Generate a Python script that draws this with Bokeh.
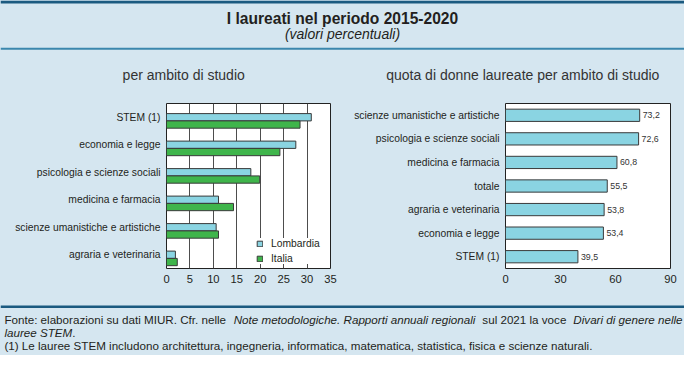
from bokeh.plotting import figure
from bokeh.models import (Range1d, FixedTicker, Label, LabelSet, Legend,
                          LegendItem, Span, ColumnDataSource)
from bokeh.layouts import column, row
from bokeh.transform import dodge
from bokeh.core.properties import value
from bokeh.embed import file_html
from bokeh.resources import INLINE

# ---------------- data ----------------
title_text = "I laureati nel periodo 2015-2020"
subtitle_text = "(valori percentuali)"
left_title = "per ambito di studio"
right_title = "quota di donne laureate per ambito di studio"

left_categories = ["STEM (1)", "economia e legge", "psicologia e scienze sociali",
                   "medicina e farmacia", "scienze umanistiche e artistiche",
                   "agraria e veterinaria"]
lombardia = [30.9, 27.6, 18.0, 11.1, 10.6, 1.9]
italia = [28.5, 24.2, 19.9, 14.3, 11.1, 2.3]
series_names = ["Lombardia", "Italia"]
left_ticks = [0, 5, 10, 15, 20, 25, 30, 35]

right_categories = ["scienze umanistiche e artistiche", "psicologia e scienze sociali",
                    "medicina e farmacia", "totale", "agraria e veterinaria",
                    "economia e legge", "STEM (1)"]
quota_donne = [73.2, 72.6, 60.8, 55.5, 53.8, 53.4, 39.5]
right_ticks = [0, 30, 60, 90]

foot_line1 = [("Fonte: elaborazioni su dati MIUR. Cfr. nelle", "normal"),
              ("Note metodologiche. Rapporti annuali regionali", "italic"),
              ("sul 2021 la voce", "normal"),
              ("Divari di genere nelle", "italic")]
foot_line2 = [("lauree STEM", "italic"), (".", "normal")]
foot_line3 = [("(1) Le lauree STEM includono architettura, ingegneria, informatica, "
               "matematica, statistica, fisica e scienze naturali.", "normal")]

# ---------------- layout / style ----------------
FONT = "Liberation Sans"
BG = "#d5e6f0"
DARK = "#1b5a80"
MID = "#3b87ad"
LOMB = "#8ad4e2"
ITA = "#3fb54b"
EDGE = "#3a3a3a"
TXT = "#231f20"
W = 684
SX = W / 700.0
H_HEAD, H_PANEL, H_FOOT = 88, 204, 63
PW = 342
BGSTYLE = {"background-color": BG}

# Arial / Liberation Sans advance widths (1/1000 em) used to flow footnote segments
AW = dict(zip("abcdefghijklmnopqrstuvwxyz",
              [556, 556, 500, 556, 556, 278, 556, 556, 222, 222, 500, 222, 833,
               556, 556, 556, 556, 333, 500, 278, 556, 500, 722, 500, 500, 500]))
AW.update(dict(zip("ABCDEFGHIJKLMNOPQRSTUVWXYZ",
                   [667, 667, 722, 722, 667, 611, 778, 722, 278, 500, 667, 556, 833,
                    722, 778, 667, 778, 722, 667, 611, 722, 667, 944, 667, 667, 611])))
AW.update({" ": 278, ".": 278, ",": 278, ":": 278, "(": 333, ")": 333, "-": 333})
FS_REF = 11.9


def tw(s):
    return sum(AW.get(ch, 556) for ch in s) * FS_REF / 1000.0


def bare(height, yr):
    p = figure(width=W, height=height, x_range=Range1d(0, 700), y_range=Range1d(*yr),
               x_axis_type=None, y_axis_type=None, toolbar_location=None,
               output_backend="svg", min_border=0, outline_line_color=None,
               background_fill_color=BG, border_fill_color=BG)
    return p


# header (reference y 0..92)
head = bare(H_HEAD, (92, 0))
head.add_layout(Span(location=1.5, dimension="width", line_color=DARK, line_width=3))
head.add_layout(Span(location=50.5, dimension="width", line_color=MID, line_width=2))
head.add_layout(Label(x=350, y=18.5, text=title_text, text_align="center",
                      text_baseline="middle", text_font=FONT, text_font_size="15.6px",
                      text_font_style="bold", text_color=TXT))
head.add_layout(Label(x=350, y=35.5, text=subtitle_text, text_align="center",
                      text_baseline="middle", text_font=FONT, text_font_size="14px",
                      text_font_style="italic", text_color=TXT))
for tx, cx in ((left_title, 187.5), (right_title, 534.5)):
    head.add_layout(Label(x=cx, y=77.5, text=tx, text_align="center",
                          text_baseline="middle", text_font=FONT, text_font_size="14px",
                          text_color="#333333"))


def panel(cats, xmax, ticks, left_border, right_border):
    n = len(cats)
    pos = list(range(n - 1, -1, -1))
    p = figure(width=PW, height=H_PANEL, y_range=Range1d(-0.5, n - 0.5),
               x_range=Range1d(0, xmax), toolbar_location=None, output_backend="svg",
               min_border_left=left_border, min_border_right=right_border,
               min_border_top=15, min_border_bottom=24,
               background_fill_color="white", border_fill_color=BG,
               outline_line_color="#222222", outline_line_width=1)
    p.xaxis.ticker = FixedTicker(ticks=ticks)
    p.yaxis.ticker = FixedTicker(ticks=pos)
    p.yaxis.major_label_overrides = {k: c for k, c in zip(pos, cats)}
    for ax in (p.xaxis, p.yaxis):
        ax.major_tick_in = 0
        ax.major_tick_out = 0
        ax.minor_tick_line_color = None
        ax.axis_line_color = None
        ax.major_label_text_font = FONT
        ax.major_label_text_color = TXT
        ax.major_label_standoff = 6
    p.xaxis.major_label_text_font_size = "11.2px"
    p.yaxis.major_label_text_font_size = "10.3px"
    p.ygrid.grid_line_color = None
    p.xgrid.grid_line_color = None
    return p, pos


# left panel
lp, lpos = panel(left_categories, 35, left_ticks, 166, 12)
lp.xgrid.grid_line_color = "#4d4d4d"
lp.xgrid.ticker = FixedTicker(ticks=left_ticks)
lsrc = ColumnDataSource(dict(pos=lpos, cat=left_categories, lomb=lombardia, ita=italia))
r1 = lp.hbar(y=dodge("pos", 0), left=0, right="lomb", height=0.265,
             fill_color=LOMB, line_color=EDGE, line_width=1, source=lsrc)
r2 = lp.hbar(y=dodge("pos", -0.265), left=0, right="ita", height=0.265,
             fill_color=ITA, line_color=EDGE, line_width=1, source=lsrc)
leg = Legend(items=[LegendItem(label=series_names[0], renderers=[r1]),
                    LegendItem(label=series_names[1], renderers=[r2])],
             location=(90, 4), orientation="vertical", margin=0, padding=5, spacing=4,
             glyph_width=7, glyph_height=7, label_height=10, label_standoff=8,
             label_text_font=FONT, label_text_font_size="10.3px", label_text_color=TXT,
             background_fill_color="white", background_fill_alpha=1.0,
             border_line_color=None)
lp.add_layout(leg)

# right panel
rp, rpos = panel(right_categories, 90, right_ticks, 163, 14)
rsrc = ColumnDataSource(dict(pos=rpos, cat=right_categories, val=quota_donne,
                             lab=[f"{v:.1f}".replace(".", ",") for v in quota_donne]))
rp.hbar(y="pos", left=0, right="val", height=0.52, fill_color=LOMB, line_color=EDGE,
        line_width=1, source=rsrc)
rp.add_layout(LabelSet(x="val", y="pos", text="lab", source=rsrc, x_offset=3,
                       text_baseline="middle", text_font=value(FONT),
                       text_font_size=value("8.8px"), text_color="#333333"))

# footer (reference y 305..371)
foot = bare(H_FOOT, (371, 305))
foot.add_layout(Span(location=320, dimension="width", line_color=DARK, line_width=2.5))
FS_PX = f"{FS_REF * SX:.2f}px"


def put(x, y, txt, style):
    foot.add_layout(Label(x=x, y=y, text=txt, text_align="left", text_baseline="middle",
                          text_font=FONT, text_font_size=FS_PX, text_font_style=style,
                          text_color=TXT))


# line 1: justified between x=4 and x=698 (reference coords)
space = tw(" ")
widths = [tw(t) for t, _ in foot_line1]
gap = space + (698 - 4 - sum(widths) - space * (len(widths) - 1)) / (len(widths) - 1)
x = 4.0
for (t, st), w in zip(foot_line1, widths):
    put(x, 333.5, t, st)
    x += w + gap
# line 2
x = 4.0
for t, st in foot_line2:
    put(x, 347, t, st)
    x += tw(t)
# line 3
put(4.0, 360.5, foot_line3[0][0], foot_line3[0][1])

layout = column(head, row(lp, rp, styles=BGSTYLE), foot, styles=BGSTYLE)
open("out.html", "w").write(file_html(layout, INLINE))
